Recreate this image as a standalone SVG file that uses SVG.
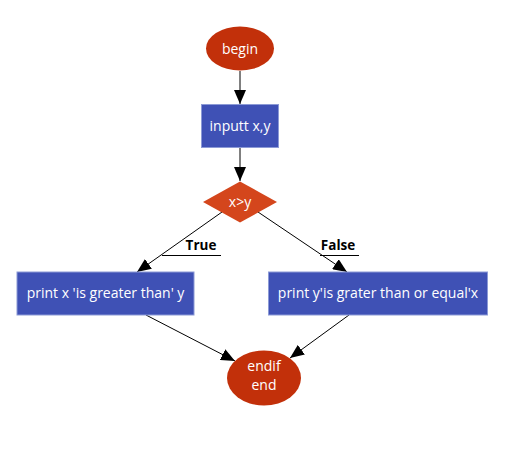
<svg xmlns="http://www.w3.org/2000/svg" width="521" height="472" viewBox="0 0 521 472">
<defs>
<style>
.term{fill:#C2300A;}
.proc{fill:#3F51B5;stroke:#8C9AD6;stroke-width:1;}
.dec{fill:#D4461C;}
.lbl{font-family:"Open Sans","Noto Sans",sans-serif;font-size:14px;fill:#ffffff;text-anchor:middle;}
.edge{stroke:#000;stroke-width:1;fill:none;}
.etxt{font-family:"Open Sans","Noto Sans",sans-serif;font-size:13.5px;font-weight:bold;fill:#000;text-anchor:middle;}
</style>
<marker id="arr" viewBox="0 0 14 12" refX="14" refY="6" markerWidth="14" markerHeight="12" markerUnits="userSpaceOnUse" orient="auto">
<path d="M0,0 L14,6 L0,12 z" fill="#000"/>
</marker>
</defs>
<rect width="521" height="472" fill="#fff"/>
<g id="connectors">
<line class="edge" x1="240" y1="71" x2="240" y2="104" marker-end="url(#arr)"/>
<line class="edge" x1="240" y1="148" x2="240" y2="181" marker-end="url(#arr)"/>
<line class="edge" x1="222" y1="212" x2="137" y2="272" marker-end="url(#arr)"/>
<line class="edge" x1="258" y1="212" x2="347" y2="272" marker-end="url(#arr)"/>
<line class="edge" x1="146" y1="315" x2="235" y2="361" marker-end="url(#arr)"/>
<line class="edge" x1="349" y1="315" x2="290" y2="358" marker-end="url(#arr)"/>
<g id="label-true">
<text class="etxt" x="201" y="250">True</text>
<line class="edge" x1="162" y1="255.5" x2="221" y2="255.5"/>
</g>
<g id="label-false">
<text class="etxt" x="338" y="250">False</text>
<line class="edge" x1="320" y1="255.5" x2="359" y2="255.5"/>
</g>
</g>
<g id="begin">
<ellipse class="term" cx="240" cy="48.5" rx="34" ry="22"/>
<text class="lbl" x="240" y="53.5">begin</text>
</g>
<g id="input">
<rect class="proc" x="201.5" y="104.5" width="77" height="43"/>
<text class="lbl" x="240" y="131">inputt x,y</text>
</g>
<g id="decision">
<polygon class="dec" points="240,181.5 277,202 240,222.5 203,202"/>
<text class="lbl" x="240" y="207">x&gt;y</text>
</g>
<g id="print-true">
<rect class="proc" x="17" y="272" width="177" height="43"/>
<text class="lbl" x="105.5" y="298">print x 'is greater than' y</text>
</g>
<g id="print-false">
<rect class="proc" x="268.5" y="272" width="219" height="43"/>
<text class="lbl" x="378" y="298">print y'is grater than or equal'x</text>
</g>
<g id="end">
<ellipse class="term" cx="264" cy="378" rx="37" ry="27.5"/>
<text class="lbl" x="264" y="370.5"><tspan x="264">endif</tspan><tspan x="264" dy="19">end</tspan></text>
</g>
</svg>
